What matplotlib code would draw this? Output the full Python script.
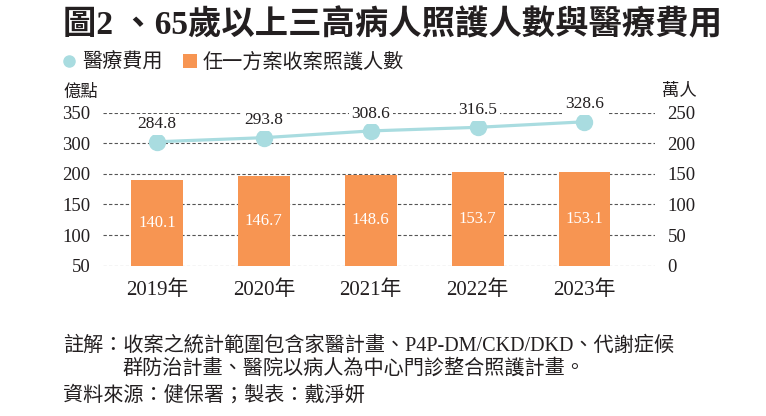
import matplotlib
matplotlib.use("Agg")
import matplotlib.pyplot as plt
from matplotlib.lines import Line2D
from matplotlib.patches import Patch

plt.rcParams['font.family'] = ['Liberation Serif', 'Noto Sans CJK TC', 'DejaVu Sans']

# data
years = ['2019年', '2020年', '2021年', '2022年', '2023年']
cost = [284.8, 293.8, 308.6, 316.5, 328.6]        # 醫療費用 (億點)
patients = [140.1, 146.7, 148.6, 153.7, 153.1]    # 照護人數 (萬人)
right_ticks = [0, 50, 100, 150, 200, 250]
left_labels = ['50', '100', '150', '200', '300', '350']  # broken left axis

TXT = '#231f20'
ORANGE = '#f79552'
TEAL = '#a9dce0'
GRID = '#555555'

fig = plt.figure(figsize=(7.66, 4.16), dpi=100)
W, H = 766, 416
ax = fig.add_axes([103 / W, 1 - 265.7 / H, (655 - 103) / W, (265.7 - 112.5) / H])

x = list(range(len(years)))
bars = ax.bar(x, patients, width=0.485, color=ORANGE, zorder=2)
ax.bar_label(bars, labels=[f'{v:.1f}' for v in patients], label_type='center',
             color='white', fontsize=12, padding=0)

ax.set_xlim(-0.505, 4.66)
ax.set_ylim(0, 250)
ax.set_yticks(right_ticks)
ax.set_yticklabels(left_labels)
ax.set_xticks(x)
ax.set_xticklabels(years, fontsize=15, color=TXT)
ax.tick_params(axis='y', length=0, pad=9, labelsize=13.5, labelcolor=TXT)
ax.tick_params(axis='x', length=0, pad=10.5)
ax.grid(axis='y', color=GRID, linestyle=(0, (3, 2)), linewidth=0.8)
ax.set_axisbelow(True)
for s in ax.spines.values():
    s.set_visible(False)

# right axis labels (萬人)
ax2 = ax.twinx()
ax2.set_ylim(0, 250)
ax2.set_yticks(right_ticks)
ax2.set_yticklabels([str(t) for t in right_ticks])
ax2.tick_params(axis='y', length=0, pad=9, labelsize=13.5, labelcolor=TXT)
for s in ax2.spines.values():
    s.set_visible(False)

# line (醫療費用)
ax3 = ax.twinx()
ax3.set_ylim(13, 349)
ax3.axis('off')
ax3.plot(x, cost, color=TEAL, linewidth=2.3, marker='o', markersize=11.5, zorder=3)
for i, v in enumerate(cost):
    ax3.annotate(f'{v:.1f}', (i, v), xytext=(0, 12.5), textcoords='offset points',
                 ha='center', va='center', fontsize=12.5, color=TXT,
                 bbox=dict(boxstyle='square,pad=0.15', fc='white', ec='none'))

# title
fig.text(63 / W, 1 - 25 / H, '圖2 、65歲以上三高病人照護人數與醫療費用',
         fontsize=24, fontweight='bold', color=TXT, va='center', ha='left')

# legend
handles = [Line2D([], [], marker='o', linestyle='none', markersize=8,
                  markerfacecolor=TEAL, markeredgecolor=TEAL),
           Patch(facecolor=ORANGE, edgecolor='none')]
fig.legend(handles, ['醫療費用', '任一方案收案照護人數'], loc='center left',
           bbox_to_anchor=(62 / W, 1 - 63 / H), ncol=2, frameon=False,
           fontsize=14.5, handlelength=0.7, handleheight=0.7, handletextpad=0.3,
           columnspacing=1.0, borderpad=0, borderaxespad=0, labelcolor=TXT)

# axis units
fig.text(63 / W, 1 - 93 / H, '億點', fontsize=12.5, color=TXT, va='center')
fig.text(662 / W, 1 - 92 / H, '萬人', fontsize=12.5, color=TXT, va='center')

# notes
fig.text(63 / W, 1 - 346 / H, '註解：收案之統計範圍包含家醫計畫、P4P-DM/CKD/DKD、代謝症候',
         fontsize=14.5, color=TXT, va='center')
fig.text(122 / W, 1 - 369 / H, '群防治計畫、醫院以病人為中心門診整合照護計畫。',
         fontsize=14.5, color=TXT, va='center')
fig.text(63 / W, 1 - 396 / H, '資料來源：健保署；製表：戴淨妍',
         fontsize=14.5, color=TXT, va='center')

fig.savefig('out.png', dpi=100)
